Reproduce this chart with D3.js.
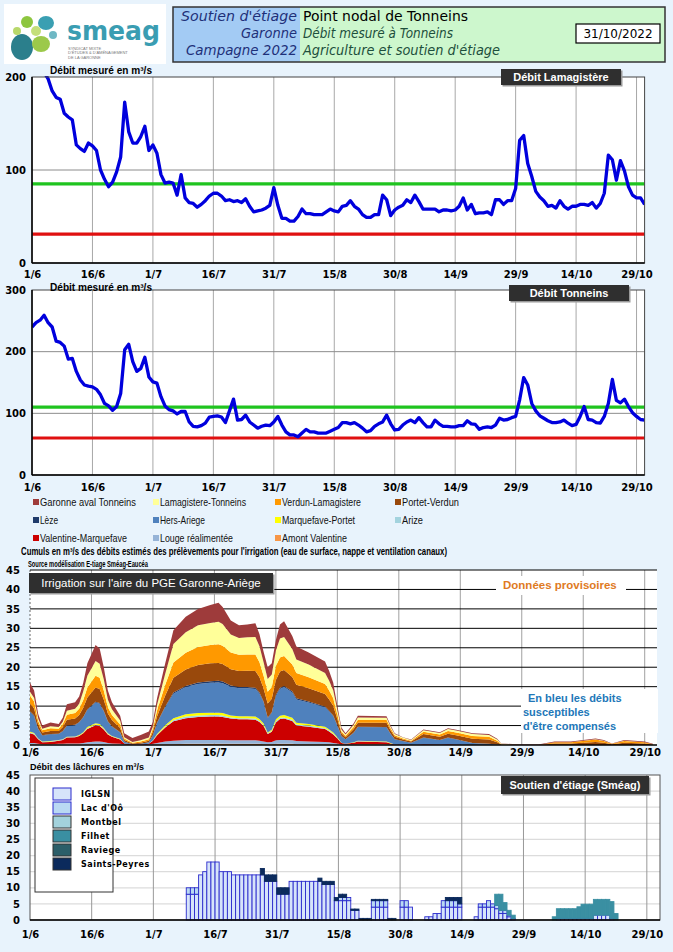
<!DOCTYPE html>
<html><head><meta charset="utf-8">
<script src="https://cdn.jsdelivr.net/npm/d3@7"></script>
<style>
body{margin:0;background:#e8f3fc;}
svg{display:block;}
</style></head><body>
<svg id="c" width="673" height="952"></svg>
<script>
// ---------------- DATA ----------------
const tickDays = [0,15,30,45,60,75,90,105,120,135,150];
const xTickLabels = ["1/6","16/6","1/7","16/7","31/7","15/8","30/8","14/9","29/9","14/10","29/10"];

// Débit Lamagistère, daily from 1/6 to 31/10 (m3/s)
const lamagistere = [
235,228,215,205,198,185,178,176,161,157,
154,127,123,120,129,126,121,100,90,82,
87,98,114,173,141,129,129,136,147,121,
127,118,95,86,87,86,73,95,70,65,
64,60,63,67,72,75,75,72,67,68,
66,67,65,69,61,55,56,57,59,62,
81,62,48,48,45,45,50,58,53,53,
52,52,52,55,58,56,55,61,62,67,
61,58,52,49,49,52,52,73,68,51,
57,60,62,68,65,73,66,58,58,58,
58,55,57,57,56,57,61,70,57,63,
53,54,54,55,52,68,68,63,67,67,
80,132,137,107,93,77,71,67,61,62,
59,67,61,58,61,61,63,63,62,65,
59,64,75,116,111,89,110,99,82,73,
70,70,63];
const lamagLimits = [85, 31];   // green (DOE), red (DCR)

// Débit Tonneins, daily from 1/6 to 31/10 (m3/s)
const tonneins = [
240,247,251,259,247,240,217,215,209,188,
189,168,154,146,144,143,139,130,116,112,
105,111,132,203,212,184,168,173,191,159,
151,149,127,112,106,104,99,103,103,86,
79,78,80,84,94,95,96,94,85,104,
123,89,90,97,86,81,76,79,81,80,
86,95,81,70,65,65,62,68,74,70,
70,68,68,68,71,74,77,85,85,83,
85,81,76,70,72,79,83,86,97,83,
73,74,81,86,89,85,93,85,78,78,
89,83,79,79,78,78,80,80,88,83,
82,74,77,78,77,81,92,89,90,93,
95,122,158,146,116,104,96,92,88,85,
85,86,89,84,80,82,95,111,90,89,
85,84,95,116,155,121,117,123,111,101,
95,90,89];
const tonnLimits = [110, 60];

// Irrigation (stacked), day index since 1/6
const irrDays = [0,1,2,3,5,7,8,9,11,12,13,14,16,17,18,19,20,22,23,25,27,29,30,31,33,35,38,41,44,46,47,49,51,53,55,56,57,58,59,60,61,62,64,65,68,72,73,74,75,76,77,79,80,87,88,89,91,93,96,100,102,104,108,112,114,115,120,124,128,132,138,140,142,145,150,152];
const amontValentine = [0.2,0.2,0.1,0.1,0.1,0.1,0.1,0.1,0.1,0.1, 0.1,0.2,0.2,0.2,0.2,0.1,0.1,0.1,0,0, 0,0,0.1,0.1,0.2,0.2,0.3,0.3,0.3,0.3, 0.3,0.3,0.3,0.3,0.3,0.3,0.2,0.2,0.2,0.3, 0.3,0.3,0.3,0.2,0.2,0.2,0.2,0.1,0.1,0, 0,0,0.1,0.1,0,0,0,0,0,0, 0,0,0,0,0,0,0,0,0,0, 0,0,0,0,0,0];
const lougeRealimentee = [0.3,0.3,0.2,0.1,0.1,0.2,0.2,0.3,0.3,0.3, 0.4,0.5,0.7,0.7,0.6,0.4,0.3,0.2,0.1,0, 0,0.1,0.2,0.4,0.7,0.9,1.0,1.0,1.0,1.0, 1.0,0.9,0.9,0.9,0.9,0.8,0.7,0.5,0.6,0.9, 1.0,1.0,0.9,0.8,0.7,0.6,0.5,0.4,0.3,0.1, 0.1,0.1,0.1,0.1,0.1,0,0,0,0,0, 0,0,0,0,0,0,0,0,0,0, 0,0,0,0,0,0];
const valentineMarquefave = [2.5,2.2,1.2,0.5,0.6,0.8,1.0,1.5,1.6,1.9, 2.5,3.4,4.2,4.0,3.2,2.2,1.7,1.1,0.3,0.1, 0.1,0.2,0.8,2.0,3.6,5.0,5.6,5.9,6.0,6.0, 5.9,5.6,5.4,5.4,5.3,4.8,4.0,2.1,2.6,4.6, 5.4,5.5,5.0,4.0,3.8,3.3,2.8,2.2,1.3,0.4, 0.2,0.5,0.7,0.5,0.3,0.1,0.1,0,0.2,0.1, 0.2,0.1,0,0,0,0,0,0,0,0, 0,0,0,0,0,0];
const arize = [0.2,0.2,0.1,0.1,0.1,0.1,0.1,0.1,0.1,0.1, 0.1,0.2,0.2,0.2,0.2,0.1,0.1,0.1,0,0, 0,0,0.1,0.1,0.2,0.3,0.4,0.4,0.4,0.4, 0.4,0.3,0.3,0.3,0.3,0.3,0.2,0.2,0.2,0.3, 0.3,0.3,0.3,0.3,0.3,0.2,0.2,0.2,0.1,0, 0,0,0.1,0.1,0,0,0,0,0,0, 0,0,0,0,0,0,0,0,0,0, 0,0,0,0,0,0];
const marquefavePortet = [0.3,0.2,0.1,0.1,0.1,0.1,0.1,0.1,0.1,0.2, 0.2,0.3,0.3,0.3,0.2,0.2,0.1,0.1,0,0, 0,0,0.1,0.2,0.4,0.5,0.6,0.6,0.6,0.6, 0.6,0.5,0.5,0.5,0.5,0.5,0.4,0.2,0.3,0.5, 0.5,0.6,0.5,0.4,0.4,0.4,0.3,0.3,0.2,0.1, 0,0.1,0.1,0.1,0.1,0,0,0,0,0, 0,0,0,0,0,0,0,0,0,0, 0,0,0,0,0,0];
const hersAriege = [5.0,4.3,2.4,1.5,1.7,1.5,2.0,2.8,2.9,3.2, 3.8,4.4,5.3,5.2,4.2,3.0,2.4,1.6,0.5,0.1, 0.2,0.4,1.2,2.8,4.6,6.3,7.0,7.5,7.7,7.8, 7.7,7.4,7.2,7.2,7.1,6.5,5.5,3.7,4.3,6.0, 6.9,7.2,6.5,6.0,5.5,5.0,4.6,4.2,3.0,1.6, 1.2,2.4,3.5,3.6,2.3,1.4,0.9,0.6,1.6,1.2, 1.6,1.3,0.5,0.3,0.1,0,0,0,0,0, 0,0,0,0,0,0];
const leze = [0.2,0.2,0.1,0.1,0.1,0.1,0.1,0.1,0.1,0.1, 0.1,0.2,0.2,0.2,0.2,0.1,0.1,0.1,0,0, 0,0,0.1,0.1,0.2,0.3,0.3,0.4,0.4,0.4, 0.4,0.3,0.3,0.3,0.3,0.3,0.2,0.2,0.2,0.3, 0.3,0.3,0.3,0.3,0.3,0.2,0.2,0.2,0.1,0.1, 0,0.1,0.1,0.1,0.1,0,0,0,0.1,0, 0.1,0.1,0,0,0,0,0,0,0,0, 0,0,0,0,0,0];
const portetVerdun = [2.0,1.8,1.0,0.7,0.8,0.7,1.0,1.5,1.6,1.8, 2.4,3.0,3.7,3.6,2.9,2.0,1.6,1.1,0.4,0.2, 0.3,0.4,0.8,1.6,2.8,3.8,4.2,4.5,4.6,4.6, 4.5,4.2,4.1,4.2,4.3,3.9,3.3,3.6,3.5,3.8, 4.2,4.1,3.7,3.5,3.4,3.2,2.9,2.5,1.5,0.7, 0.5,0.9,1.0,1.1,0.8,0.6,0.4,0.3,0.9,0.8, 1.0,1.0,1.1,1.1,0.6,0.1,0,0,0.4,0.4, 0.8,0.6,0.2,0.6,0.4,0.1];
const verdunLamagistere = [2.0,1.8,1.0,0.6,0.7,0.6,0.8,1.3,1.4,1.6, 2.0,2.6,3.0,2.9,2.3,1.6,1.3,0.9,0.4,0.2, 0.3,0.4,0.8,1.6,2.8,3.9,4.3,4.6,4.7,4.8, 4.7,4.3,4.2,4.2,4.3,3.9,3.3,3.0,3.0,3.6, 3.6,3.6,3.2,3.0,2.8,2.6,2.3,1.9,1.2,0.5, 0.4,0.6,0.8,0.8,0.6,0.4,0.3,0.2,0.6,0.6, 0.7,0.7,0.7,0.7,0.4,0.1,0,0,0.3,0.3, 0.6,0.4,0.1,0.4,0.3,0.1];
const lamagistereTonneins = [1.0,0.9,0.6,0.4,0.5,0.4,0.6,1.0,1.1,1.3, 2.2,3.0,3.8,3.6,2.9,2.0,1.5,1.0,0.3,0.2, 0.3,0.4,0.6,1.4,2.8,4.8,5.3,5.6,5.7,5.8, 5.6,4.6,4.3,4.4,4.5,4.1,3.5,3.3,3.2,4.0, 4.9,4.9,4.0,3.5,3.3,2.8,2.5,2.0,1.2,0.5, 0.3,0.5,0.6,0.5,0.4,0.3,0.2,0.2,0.4,0.4, 0.5,0.5,0.5,0.5,0.3,0.1,0,0,0,0, 0.1,0.1,0,0.1,0,0];
const garonneAvalTonneins = [2.3,1.9,1.2,0.8,1.0,0.8,1.0,1.7,1.7,1.9, 2.2,3.2,4.1,3.9,3.1,2.3,1.8,1.2,1.0,1.0, 1.4,1.6,1.2,1.7,2.7,3.5,4.0,4.2,4.6,4.9, 4.4,3.6,3.3,3.3,3.5,3.1,2.7,3.0,2.9,2.7, 3.6,4.0,3.3,3.3,3.1,3.0,2.5,2.0,1.0,0.5, 0.3,0.4,0.4,0.4,0.3,0.2,0.1,0.1,0.2,0.2, 0.2,0.2,0.2,0.2,0.2,0.1,0.1,0.1,0.2,0.2, 0.2,0.2,0.1,0.2,0.2,0.1];

const irrNames = ["Garonne aval Tonneins","Lamagistere-Tonneins","Verdun-Lamagistere","Portet-Verdun","Lèze","Hers-Ariege","Marquefave-Portet","Arize","Valentine-Marquefave","Louge réalimentée","Amont Valentine"];
const irrColors = ["#9e3b3b","#ffff99","#ff9900","#99490c","#1f3a6b","#4f81bd","#ffff00","#a3d3de","#cc0000","#95b3d7","#f79646"];
const irrSeries = [garonneAvalTonneins,lamagistereTonneins,verdunLamagistere,portetVerdun,leze,hersAriege,marquefavePortet,arize,valentineMarquefave,lougeRealimentee,amontValentine];

// Lâchures (soutien d'étiage), [day index, m3/s]
const iglsn = [[38,8],[39,8],[40,8],[41,14],[42,15],[43,18],[44,18],[45,18],[46,15],[47,15],[48,15],
 [49,14],[50,14],[51,14],[52,14],[53,14],[54,14],[55,14],[56,14],[57,12],[58,12],[59,12],[60,8],[61,8],[62,8],
 [63,12],[64,12],[65,12],[66,12],[67,12],[68,12],[69,12],[70,12],[71,11],[72,11],[73,11],[74,6],[75,6],[76,6],[77,6],
 [78,3],[79,3],[83,4],[84,4],[85,4],[86,4],[90,4],[91,4],[92,4],[96,1],[97,1],[98,2],[99,2],
 [100,4],[101,4],[102,4],[103,4],[104,4],[108,1],[109,4],[110,4],[111,4],[112,4],[113,3.5],[114,2],[115,2],[116,1],[117,0.5],
 [128,0.5],[129,0.5],[130,0.5],[131,0.5],[132,0.5],[133,0.5],[134,0.5],[135,0.5],[136,0.5],[137,1.5],[138,1.5],[139,1.5],[140,1.5],[141,0.5]];
const lacOo = [[38,2],[39,2],[40,2],[75,1],[76,1],[77,1],[83,2],[84,2],[85,2],[86,2],[90,2],[91,2],
 [100,2],[101,2],[102,2],[103,2],[104,1],[109,1],[110,1],[111,2],[112,1],[113,1],[114,1],[115,1],[116,0.5]];
const montbel = [];
const filhet = [[113,3.5],[114,5],[115,2.4],[116,1.5],[117,1],[127,1],[128,3],[129,3],[130,3],[131,3],[132,3],
 [133,3.6],[134,4.4],[135,4.4],[136,4.4],[137,4.9],[138,4.9],[139,4.9],[140,4.9],[141,5.2],[142,2]];
const raviege = [];
const saintsPeyres = [[56,2],[57,2],[58,2],[59,2],[60,2],[61,2],[62,2],[70,1],[71,1],[72,1],[73,1],[74,1],[75,1],[76,1],
 [78,0.4],[79,0.4],[80,0.5],[81,0.5],[82,0.5],[83,0.4],[84,0.4],[85,0.4],[86,0.4],[87,0.5],[88,0.5],[101,1],[102,1],[103,1],[104,2]];
const lachNames = ["IGLSN","Lac d'Oô","Montbel","Filhet","Raviege","Saints-Peyres"];
const lachSeries = [iglsn,lacOo,montbel,filhet,raviege,saintsPeyres];
const lachFill = ["#d6e4fa","#b9d9f3","#a3d2dc","#3a8fa2","#2b5e69","#0b2a5c"];
const lachStroke = ["#2a2acc","#2a2acc","#3a6f7a","#3a8fa2","#2b5e69","#0b2a5c"];

// ---------------- DRAW ----------------
const svg = d3.select("#c");
const F = "'Liberation Sans', Arial, sans-serif";
const FD = "'DejaVu Sans', Verdana, sans-serif";

function fitText(sel, w){ return sel.attr("textLength",w).attr("lengthAdjust","spacingAndGlyphs"); }

// header: logo
const logo = svg.append("g");
logo.append("rect").attr("x",4).attr("y",4).attr("width",162).attr("height",60).attr("fill","#fff");
[[22,47,11,13,"#2b7f8c"],[41,44,9,8,"#9cc94a"],[27,22,6,6,"#8dc63f"],[17,31,4,4,"#b8d86b"],[46,23,8,7,"#3a9fb2"],[36,31,5,5,"#c4df7a"],[53,35,4,4,"#6fb8c4"]]
 .forEach(c=>logo.append("ellipse").attr("cx",c[0]).attr("cy",c[1]).attr("rx",c[2]).attr("ry",c[3]).attr("fill",c[4]));
fitText(logo.append("text").attr("x",67).attr("y",40).attr("font-family",FD).attr("font-weight","bold").attr("font-size",27).attr("fill","#3a9db2").text("smeag"),93);
["SYNDICAT MIXTE","D'ÉTUDES & D'AMÉNAGEMENT","DE LA GARONNE"].forEach((t,i)=>logo.append("text").attr("x",68).attr("y",49.5+i*4.5).attr("font-family",F).attr("font-size",4).attr("fill","#777").text(t));

// header box
svg.append("rect").attr("x",173).attr("y",7).attr("width",127).attr("height",55).attr("fill","#a3cbf4");
svg.append("rect").attr("x",300).attr("y",7).attr("width",365).attr("height",55).attr("fill","#cdf7cd");
svg.append("rect").attr("x",173).attr("y",7).attr("width",492).attr("height",55).attr("fill","none").attr("stroke","#333").attr("stroke-width",1.5);
const hl = ["Soutien d'étiage","Garonne","Campagne 2022"], hlW=[116,56,111];
hl.forEach((t,i)=>fitText(svg.append("text").attr("x",297).attr("y",21+i*17).attr("text-anchor","end").attr("font-family",FD).attr("font-style","italic").attr("font-size",13.5).attr("fill","#1e3079").text(t),hlW[i]));
fitText(svg.append("text").attr("x",303).attr("y",21).attr("font-family",FD).attr("font-size",13.5).attr("fill","#000").text("Point nodal de Tonneins"),165);
fitText(svg.append("text").attr("x",303).attr("y",38).attr("font-family",FD).attr("font-style","italic").attr("font-size",13.5).attr("fill","#1d4f3c").text("Débit mesuré à Tonneins"),150);
fitText(svg.append("text").attr("x",303).attr("y",55).attr("font-family",FD).attr("font-style","italic").attr("font-size",13.5).attr("fill","#1d4f3c").text("Agriculture et soutien d'étiage"),197);
svg.append("rect").attr("x",576).attr("y",24).attr("width",84).attr("height",19).attr("fill","#fff").attr("stroke","#000").attr("stroke-width",1.2);
svg.append("text").attr("x",618).attr("y",38).attr("text-anchor","middle").attr("font-family",FD).attr("font-size",12).text("31/10/2022");

function titleBox(x,y,w,h,txt,fs,bold){
  svg.append("rect").attr("x",x+1.5).attr("y",y+1.5).attr("width",w).attr("height",h).attr("fill","#999");
  svg.append("rect").attr("x",x).attr("y",y).attr("width",w).attr("height",h).attr("fill","#2f2f2f");
  svg.append("text").attr("x",x+w/2).attr("y",y+h/2+4).attr("text-anchor","middle").attr("font-family",F).attr("font-size",fs).attr("font-weight",bold?"bold":"normal").attr("fill","#fff").text(txt);
}

function lineChart(o){
  const x = d3.scaleLinear().domain([0,152]).range([32,644.6]);
  const y = d3.scaleLinear().domain([0,o.ymax]).range([o.bottom,o.top]);
  const g = svg.append("g");
  g.append("rect").attr("x",x(0)).attr("y",y(o.ymax)).attr("width",x(152)-x(0)).attr("height",y(0)-y(o.ymax)).attr("fill","#fff");
  g.append("g").selectAll("line").data(tickDays.slice(1)).join("line")
    .attr("x1",d=>x(d)).attr("x2",d=>x(d)).attr("y1",y(o.ymax)).attr("y2",y(0)).attr("stroke","#a8a8a8");
  g.append("g").selectAll("line").data(o.yticks.slice(1,-1)).join("line")
    .attr("x1",x(0)).attr("x2",x(152)).attr("y1",d=>y(d)).attr("y2",d=>y(d)).attr("stroke","#8c8c8c");
  const cols = ["#1fc41f","#e01010"];
  o.limits.forEach((v,i)=>g.append("line").attr("x1",x(0)).attr("x2",x(152)).attr("y1",y(v)).attr("y2",y(v)).attr("stroke",cols[i]).attr("stroke-width",3.2));
  const cid = "clip"+o.id;
  svg.append("clipPath").attr("id",cid).append("rect").attr("x",x(0)).attr("y",y(o.ymax)-1).attr("width",x(152)-x(0)).attr("height",y(0)-y(o.ymax)+1);
  g.append("path").datum(o.values).attr("clip-path",`url(#${cid})`)
    .attr("d",d3.line().x((d,i)=>x(i)).y(d=>y(d)))
    .attr("fill","none").attr("stroke","#0000dd").attr("stroke-width",3.3).attr("stroke-linejoin","round");
  g.append("rect").attr("x",x(0)).attr("y",y(o.ymax)).attr("width",x(152)-x(0)).attr("height",y(0)-y(o.ymax)).attr("fill","none").attr("stroke","#444").attr("stroke-width",1);
  g.append("line").attr("x1",x(0)).attr("x2",x(0)).attr("y1",y(o.ymax)).attr("y2",y(0)).attr("stroke","#000").attr("stroke-width",1.5);
  g.append("line").attr("x1",x(0)).attr("x2",x(152)).attr("y1",y(0)).attr("y2",y(0)).attr("stroke","#000").attr("stroke-width",1.5);
  const ax = g.append("g").attr("transform",`translate(0,${y(0)})`)
    .call(d3.axisBottom(x).tickValues(tickDays).tickFormat((d,i)=>xTickLabels[i]).tickSize(0).tickPadding(o.xpad));
  const ay = g.append("g").attr("transform",`translate(${x(0)},0)`)
    .call(d3.axisLeft(y).tickValues(o.yticks).tickSize(0).tickPadding(6));
  [ax,ay].forEach(a=>{a.select(".domain").remove();a.selectAll("text").attr("font-family",FD).attr("font-weight","bold").attr("font-size",10).attr("fill","#000");});
  fitText(g.append("text").attr("x",50).attr("y",o.labY).attr("font-family",F).attr("font-weight","bold").attr("font-size",10).text("Débit mesuré en m³/s"),102);
  titleBox(o.tb[0],o.tb[1],o.tb[2],o.tb[3],o.title,11,true);
}

lineChart({id:1,top:77,bottom:263,ymax:200,yticks:[0,100,200],values:lamagistere,limits:lamagLimits,xpad:8,labY:74,title:"Débit Lamagistère",tb:[501,69,120,16]});
lineChart({id:2,top:290,bottom:475,ymax:300,yticks:[0,100,200,300],values:tonneins,limits:tonnLimits,xpad:9,labY:291,title:"Débit Tonneins",tb:[509,285,120,16]});

// legend of irrigation
const legX = [33,153,275,395], legY = [502,520,538];
const legW = [96,86,79,57,18,45,73,21,87,73,65];
irrNames.forEach((n,i)=>{
  const cx = legX[i%4], cy = legY[Math.floor(i/4)];
  svg.append("rect").attr("x",cx).attr("y",cy-3).attr("width",6).attr("height",6).attr("fill",irrColors[i]);
  fitText(svg.append("text").attr("x",cx+7).attr("y",cy+3.5).attr("font-family",F).attr("font-size",10.5).attr("fill","#111").text(n),legW[i]);
});
fitText(svg.append("text").attr("x",21).attr("y",555).attr("font-family",F).attr("font-weight","bold").attr("font-size",10)
  .text("Cumuls en m³/s des débits estimés des prélèvements pour l'irrigation (eau de surface, nappe et ventilation canaux)"),426);
fitText(svg.append("text").attr("x",28).attr("y",567).attr("font-family",F).attr("font-weight","bold").attr("font-size",9.5)
  .text("Source modélisation E-tiage Sméag-Eaucéa"),120);

// ---- chart 3: irrigation stacked area
{
  const x = d3.scaleLinear().domain([0,153]).range([30,657]);
  const y = d3.scaleLinear().domain([0,45]).range([745,570]);
  const g = svg.append("g");
  g.append("rect").attr("x",x(0)).attr("y",y(45)).attr("width",x(153)-x(0)).attr("height",y(0)-y(45)).attr("fill","#fff");
  g.append("g").selectAll("line").data(tickDays.slice(1)).join("line")
    .attr("x1",d=>x(d)).attr("x2",d=>x(d)).attr("y1",y(45)).attr("y2",y(0)).attr("stroke","#a0a0a0");
  g.append("line").attr("x1",x(0)).attr("x2",x(0)).attr("y1",y(45)).attr("y2",y(0)).attr("stroke","#666").attr("stroke-dasharray","2,2");
  g.append("g").selectAll("line").data(d3.range(5,46,5)).join("line")
    .attr("x1",x(0)).attr("x2",x(153)).attr("y1",d=>y(d)).attr("y2",d=>y(d)).attr("stroke","#000").attr("stroke-width",1);
  const keys = irrNames.slice().reverse();
  const rows = irrDays.map((d,i)=>{const r={day:d};irrNames.forEach((n,k)=>r[n]=irrSeries[k][i]);return r;});
  const stack = d3.stack().keys(keys)(rows);
  const area = d3.area().x(d=>x(d.data.day)).y0(d=>y(d[0])).y1(d=>y(d[1]));
  g.append("g").selectAll("path").data(stack).join("path")
    .attr("d",area).attr("fill",d=>irrColors[irrNames.indexOf(d.key)]);
  g.append("line").attr("x1",x(0)).attr("x2",x(153)).attr("y1",y(0)).attr("y2",y(0)).attr("stroke","#000").attr("stroke-width",1.5);
  const ax = g.append("g").attr("transform",`translate(0,${y(0)})`)
    .call(d3.axisBottom(x).tickValues(tickDays).tickFormat((d,i)=>xTickLabels[i]).tickSize(0).tickPadding(4));
  const ay = g.append("g").attr("transform",`translate(${x(0)},0)`)
    .call(d3.axisLeft(y).tickValues(d3.range(0,46,5)).tickSize(0).tickPadding(10));
  [ax,ay].forEach(a=>{a.select(".domain").remove();a.selectAll("text").attr("font-family",FD).attr("font-weight","bold").attr("font-size",10).attr("fill","#000");});
  // annotation boxes
  g.append("rect").attr("x",496).attr("y",576).attr("width",130).attr("height",19).attr("fill","#fff");
  g.append("text").attr("x",503).attr("y",589).attr("font-family",F).attr("font-weight","bold").attr("font-size",11.5).attr("fill","#e07b1f").text("Données provisoires");
  g.append("rect").attr("x",521).attr("y",689).attr("width",137).attr("height",44).attr("fill","#fff");
  ["En bleu les débits","susceptibles","d'être compensés"].forEach((t,i)=>
    g.append("text").attr("x",i==0?528:523).attr("y",702+i*14).attr("font-family",F).attr("font-weight","bold").attr("font-size",11).attr("fill","#2277b8").text(t));
  titleBox(29,573,244,20,"Irrigation sur l'aire du PGE Garonne-Ariège",11.5,false);
}

svg.append("text").attr("x",30).attr("y",770).attr("font-family",F).attr("font-weight","bold").attr("font-size",9).text("Débit des lâchures en m³/s");

// ---- chart 4: lâchures bars
{
  const x = d3.scaleLinear().domain([0,153.2]).range([30,660]);
  const y = d3.scaleLinear().domain([0,45]).range([920,775]);
  const g = svg.append("g");
  g.append("rect").attr("x",x(0)).attr("y",y(45)).attr("width",x(153.2)-x(0)).attr("height",y(0)-y(45)).attr("fill","#fff");
  g.append("g").selectAll("line").data(d3.range(5,45,5)).join("line")
    .attr("x1",x(0)).attr("x2",x(153.2)).attr("y1",d=>y(d)).attr("y2",d=>y(d)).attr("stroke","#dcdcdc").attr("stroke-width",1.2);
  g.append("g").selectAll("line").data(tickDays.slice(1)).join("line")
    .attr("x1",d=>x(d)).attr("x2",d=>x(d)).attr("y1",y(45)).attr("y2",y(0)).attr("stroke","#999");
  const dayset = Array.from(new Set(lachSeries.flatMap(s=>s.map(p=>p[0])))).sort((a,b)=>a-b);
  const rows = dayset.map(d=>{const r={day:d};lachNames.forEach((n,k)=>{const p=lachSeries[k].find(q=>q[0]===d);r[n]=p?p[1]:0;});return r;});
  const stack = d3.stack().keys(lachNames)(rows);
  g.append("g").selectAll("g").data(stack).join("g")
    .attr("fill",(d,i)=>lachFill[i]).attr("stroke",(d,i)=>lachStroke[i]).attr("stroke-width",0.9)
    .selectAll("rect").data(d=>d.filter(v=>v[1]-v[0]>0)).join("rect")
    .attr("x",d=>x(d.data.day)).attr("width",d=>x(d.data.day+1)-x(d.data.day))
    .attr("y",d=>y(d[1])).attr("height",d=>y(d[0])-y(d[1]));
  g.append("rect").attr("x",x(0)).attr("y",y(45)).attr("width",x(153.2)-x(0)).attr("height",y(0)-y(45)).attr("fill","none").attr("stroke","#555");
  g.append("line").attr("x1",x(0)).attr("x2",x(153.2)).attr("y1",y(0)).attr("y2",y(0)).attr("stroke","#000").attr("stroke-width",1.5);
  const ax = g.append("g").attr("transform",`translate(0,${y(0)})`)
    .call(d3.axisBottom(x).tickValues(tickDays).tickFormat((d,i)=>xTickLabels[i]).tickSize(0).tickPadding(11));
  const ay = g.append("g").attr("transform",`translate(${x(0)},0)`)
    .call(d3.axisLeft(y).tickValues(d3.range(0,46,5)).tickSize(0).tickPadding(10));
  [ax,ay].forEach(a=>{a.select(".domain").remove();a.selectAll("text").attr("font-family",FD).attr("font-weight","bold").attr("font-size",10).attr("fill","#000");});
  // legend
  g.append("rect").attr("x",35).attr("y",778).attr("width",78).attr("height",114).attr("fill","#fff").attr("stroke","#333");
  lachNames.forEach((n,i)=>{
    g.append("rect").attr("x",53).attr("y",788+i*14).attr("width",18).attr("height",12).attr("fill",lachFill[i]).attr("stroke",i<2?"#2a2acc":"#333").attr("stroke-width",1);
    g.append("text").attr("x",81).attr("y",797+i*14).attr("font-family",FD).attr("font-weight","bold").attr("font-size",8).attr("letter-spacing",0.5).text(n);
  });
  titleBox(501,776,148,18,"Soutien d'étiage (Sméag)",11,true);
}
</script>
</body></html>
